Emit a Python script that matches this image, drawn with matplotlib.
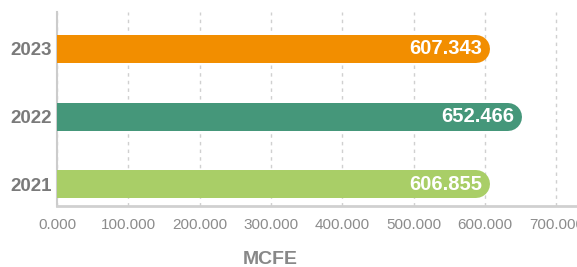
import matplotlib
matplotlib.use("Agg")
import matplotlib.pyplot as plt
import numpy as np

# data
years = ['2021', '2022', '2023']
values = [606855, 652466, 607343]
value_labels = ['606.855', '652.466', '607.343']
bar_colors = ['#a9ce67', '#45977a', '#f28e00']
x_ticks = [0, 100000, 200000, 300000, 400000, 500000, 600000, 700000]
x_tick_labels = ['0.000', '100.000', '200.000', '300.000', '400.000', '500.000', '600.000', '700.000']

plt.rcParams['font.family'] = ['Liberation Sans', 'DejaVu Sans']

W, H = 577, 267
fig = plt.figure(figsize=(W / 100, H / 100), dpi=100)
ax = fig.add_axes([57 / W, 1 - 205.5 / H, (W - 57) / W, (205.5 - 12) / H])

ax.set_xlim(0, 729000)
ax.set_ylim(-0.31, 2.546)

y = np.arange(len(years))
bar_px = 28  # bar thickness in pixels

# radius of round cap in data units
x0 = ax.transData.transform((0, 0))[0]
x1 = ax.transData.transform((100000, 0))[0]
px_per_unit = (x1 - x0) / 100000
r = (bar_px / 2) / px_per_unit

for i in range(len(years)):
    ax.plot([-300000, values[i] - r], [y[i], y[i]], color=bar_colors[i],
            linewidth=bar_px * 0.72, solid_capstyle='round', zorder=3)
    ax.text(values[i] - 8 / px_per_unit, y[i], value_labels[i],
            ha='right', va='center', color='white', fontsize=14.5,
            fontweight='bold', zorder=4)

ax.set_yticks(y)
ax.set_yticklabels(years, fontsize=13.5, fontweight='bold', color='#7a7a7a')
ax.set_xticks(x_ticks)
ax.set_xticklabels(x_tick_labels, fontsize=11, color='#8c8c8c')
ax.tick_params(axis='both', length=0)
ax.tick_params(axis='x', pad=9)
ax.tick_params(axis='y', pad=4)

ax.grid(axis='x', linestyle=(0, (2.5, 3)), color='#d0d0d0', linewidth=1, zorder=0)
ax.set_axisbelow(True)

for s in ['top', 'right']:
    ax.spines[s].set_visible(False)
ax.spines['left'].set_color('#cccccc')
ax.spines['left'].set_linewidth(1.5)
ax.spines['bottom'].set_color('#d0d0d0')
ax.spines['bottom'].set_linewidth(2)

fig.text(270 / W, 1 - 259 / H, 'MCFE', ha='center', va='center',
         fontsize=14, fontweight='bold', color='#888888')

plt.savefig("out.png", dpi=100)
